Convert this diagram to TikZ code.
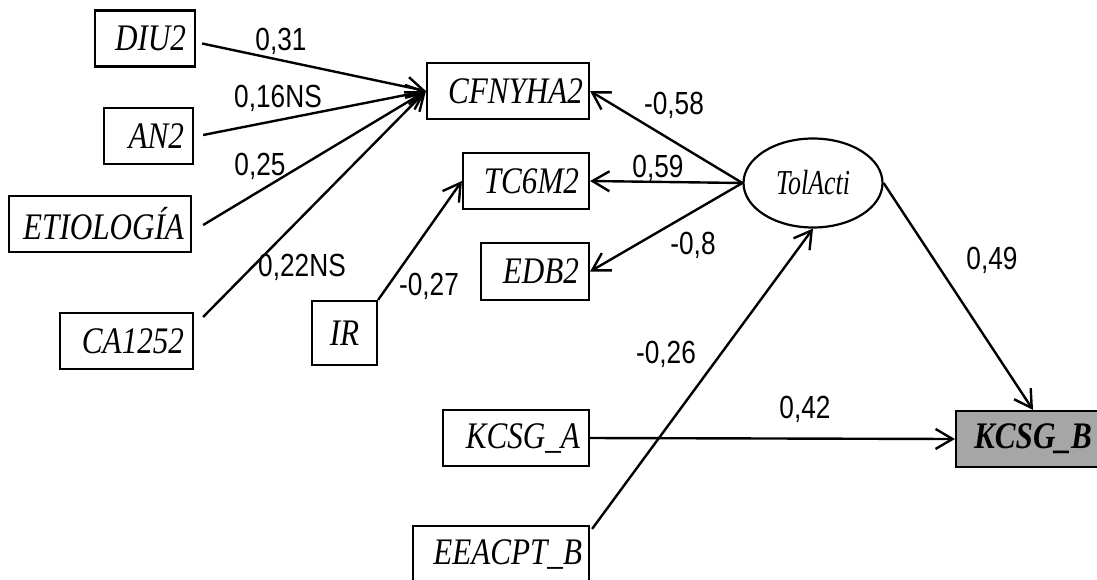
\documentclass[tikz,border=0pt]{standalone}
\usepackage{fontspec}
\setmainfont{Liberation Serif}[FakeStretch=0.83]
\newfontfamily\lblfont{Liberation Sans}[FakeStretch=0.82]
\newfontfamily\tolfont{Liberation Serif}[FakeStretch=0.74]
\usetikzlibrary{arrows.meta,calc,shapes.geometric}
\definecolor{kbfill}{RGB}{166,166,166}
\begin{document}
\begin{tikzpicture}[x=1pt,y=-1pt,
  box/.style={draw, line width=2.2pt, minimum height=56pt, inner xsep=10pt, inner ysep=0pt,
    align=right, font=\fontsize{37.5}{40}\selectfont\itshape},
  lbl/.style={anchor=base, inner sep=0pt, font=\lblfont\fontsize{32}{36}\selectfont},
  con/.style={line width=2.4pt, -{Straight Barb[length=17pt,width=20pt]}},
  ]
\useasboundingbox (0,0) rectangle (1097,579);

% boxes
\node[box, inner xsep=9pt, text width=82pt]  (diu) at (145,38.5) {DIU2};
\node[box, inner xsep=9pt, text width=71pt]  (an)  at (148.5,136) {AN2};
\node[box, inner xsep=7pt, text width=168pt] (eti) at (100,224) {ETIOLOGÍA};
\node[box, inner xsep=9pt, text width=115pt] (ca)  at (126.5,341) {CA1252};
\node[box, text width=45pt, minimum height=64pt, align=center] (ir) at (344.5,333) {IR};
\node[box, inner xsep=6pt, text width=150pt] (cfn) at (508,91) {CFNYHA2};
\node[box, text width=106pt] (tc)  at (526,181) {TC6M2};
\node[box, text width=88pt, minimum height=57pt] (edb) at (535,271.5) {EDB2};
\node[box, inner xsep=9pt, text width=128pt] (ka)  at (516,438) {KCSG\_A};
\node[box, inner xsep=7pt, text width=162pt] (ee)  at (501,554) {EEACPT\_B};
\node[box, fill=kbfill, text width=134pt, align=center] (kb) at (1033,439) {\bfseries KCSG\_B};

% latent variable
\node[draw, ellipse, line width=2.2pt, minimum width=139pt, minimum height=89pt, inner sep=0pt,
  font=\tolfont\itshape\fontsize{35}{40}\selectfont] (tol) at (813,183) {TolActi};

% connectors
\draw[con] ($(diu.east)+(6,5)$) -- (cfn.west);
\draw[con] ($(an.east)+(9,-1)$) -- (cfn.west);
\draw[con] ($(eti.east)+(11,1)$) -- (cfn.west);
\draw[con] ($(ca.east)+(9,-24)$) -- (cfn.west);
\draw[con] (ir.north east) -- (tc.west);
\draw[con] (tol.west) -- (cfn.east);
\draw[con] (tol.west) -- (tc.east);
\draw[con] (tol.west) -- (edb.east);
\draw[con] ($(ee.north east)+(2,4)$) -- (tol.south);
\draw[con] (ka.east) -- (kb.west);
\draw[con] (tol.east) -- (kb.north);

% coefficients
\node[lbl] (c1)  at (281,50)  {0,31};
\node[lbl] (c2)  at (278,107) {0,16NS};
\node[lbl] (c3)  at (260,175) {0,25};
\node[lbl] (c4)  at (302,276) {0,22NS};
\node[lbl] (c5)  at (429,295) {-0,27};
\node[lbl] (c6)  at (674,114) {-0,58};
\node[lbl] (c7)  at (658,177) {0,59};
\node[lbl] (c8)  at (693,254) {-0,8};
\node[lbl] (c9)  at (666,363) {-0,26};
\node[lbl] (c10) at (805,418) {0,42};
\node[lbl] (c11) at (992,269) {0,49};
\end{tikzpicture}
\end{document}
